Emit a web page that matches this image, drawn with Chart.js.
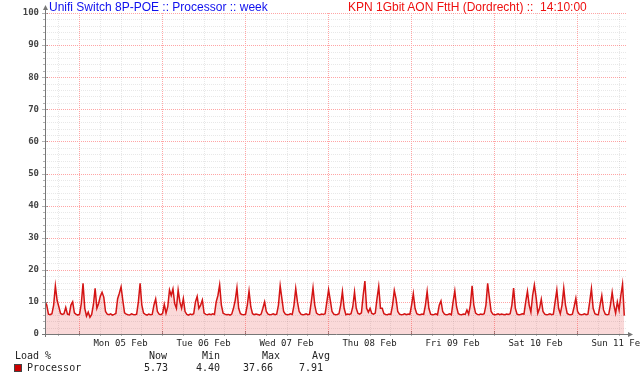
<!DOCTYPE html>
<html>
<head>
<meta charset="utf-8">
<script src="https://cdn.jsdelivr.net/npm/chart.js@4/dist/chart.umd.min.js"></script>
<style>
  html, body { margin: 0; padding: 0; background: #fff; }
  #wrap { position: relative; width: 640px; height: 380px; overflow: hidden; }
  canvas { position: absolute; left: 0; top: 0; }
  .t { position: absolute; white-space: pre; }
  .title { font: 12px "Liberation Sans", Arial, sans-serif; line-height: 14px; top: 0; }
  .mono { font: 10px "DejaVu Sans Mono", monospace; line-height: 12px; color: #222; }
  .r { text-align: right; }
</style>
</head>
<body>
<div id="wrap">
  <canvas id="c" width="640" height="380"></canvas>
  <div class="t title" style="left:49px;color:#1010ee;">Unifi Switch 8P-POE :: Processor :: week</div>
  <div class="t title" style="left:348px;color:#ee1010;">KPN 1Gbit AON FttH (Dordrecht) ::  14:10:00</div>
  <div class="t mono" style="left:15px;top:350px;">Load %</div>
  <div class="t mono r" style="right:473px;top:350px;">Now</div>
  <div class="t mono r" style="right:420px;top:350px;">Min</div>
  <div class="t mono r" style="right:360px;top:350px;">Max</div>
  <div class="t mono r" style="right:310px;top:350px;">Avg</div>
  <div class="t" style="left:14px;top:364px;width:6px;height:6px;background:#cc0000;border:1px solid #444;"></div>
  <div class="t mono" style="left:27px;top:362px;" id="seriesName"></div>
  <div class="t mono r" style="right:472px;top:362px;" id="sNow"></div>
  <div class="t mono r" style="right:420px;top:362px;" id="sMin"></div>
  <div class="t mono r" style="right:367px;top:362px;" id="sMax"></div>
  <div class="t mono r" style="right:317px;top:362px;" id="sAvg"></div>
</div>
<script>
// ---- data (one sample every 30 minutes, week ending Sun 11 Feb 14:10) ----
const SERIES_NAME = 'Processor';
const STEP_HOURS = 0.5;
const DAY_LABELS = ['Mon 05 Feb', 'Tue 06 Feb', 'Wed 07 Feb', 'Thu 08 Feb', 'Fri 09 Feb', 'Sat 10 Feb', 'Sun 11 Feb'];
const FIRST_MIDNIGHT_HOUR = 9 + 50 / 60;   // Mon 05 Feb 00:00, hours after window start
const STATS = { now: '5.73', min: '4.40', max: '37.66', avg: '7.91' };
const Y_TICKS = [0, 10, 20, 30, 40, 50, 60, 70, 80, 90, 100];

const LOAD_DAY1 = [10.1, 9.0, 6.2, 6.0, 6.3, 9.0, 15.0, 10.5, 8.5, 6.4, 6.1, 6.3, 8.3, 6.2, 6.0, 9.0,
  10.0, 6.6, 6.1, 5.9, 6.2, 9.5, 15.8, 8.0, 5.6, 6.8, 5.2, 6.1, 9.2, 14.2, 8.0, 9.5,
  11.8, 13.0, 11.5, 7.0, 6.2, 6.0, 6.3, 5.9, 6.1, 6.4, 11.0, 12.7, 14.7, 10.5, 6.6, 6.2];
const LOAD_DAY2 = [6.0, 5.9, 6.3, 6.1, 6.0, 6.2, 10.0, 15.8, 9.0, 6.5, 6.1, 5.9, 6.2, 6.0, 6.1, 9.0,
  10.9, 7.0, 6.2, 6.0, 6.4, 9.2, 6.5, 8.5, 13.7, 12.0, 14.0, 9.5, 8.0, 13.7, 10.0, 8.0,
  11.0, 7.0, 6.1, 5.9, 6.2, 6.0, 6.3, 10.0, 11.7, 8.0, 9.0, 10.6, 6.5, 6.1, 6.0, 6.2];
const LOAD_DAY3 = [6.0, 6.3, 6.1, 10.0, 12.0, 15.3, 9.0, 6.5, 6.2, 6.0, 6.1, 5.9, 6.2, 8.0, 10.5, 14.4,
  8.0, 6.3, 6.1, 6.0, 6.2, 9.0, 13.4, 8.5, 6.3, 6.0, 6.2, 6.1, 5.9, 6.2, 8.0, 10.0,
  7.0, 6.2, 6.0, 6.1, 6.3, 6.0, 6.2, 9.0, 15.0, 11.0, 7.0, 6.2, 6.0, 6.1, 6.3, 6.1];
const LOAD_DAY4 = [9.0, 14.2, 10.0, 7.0, 6.2, 6.0, 6.1, 6.3, 6.0, 6.2, 10.0, 14.4, 9.0, 6.5, 6.1, 6.0,
  6.2, 6.1, 6.3, 10.0, 13.8, 10.5, 7.0, 6.2, 6.0, 6.1, 6.3, 9.0, 13.2, 8.0, 6.0, 6.2,
  6.1, 6.3, 8.5, 13.1, 8.0, 6.4, 6.2, 6.6, 12.0, 16.5, 8.0, 6.8, 8.0, 6.4, 6.2, 6.5];
const LOAD_DAY5 = [11.0, 14.8, 8.0, 8.0, 6.3, 6.1, 6.0, 6.2, 6.1, 9.0, 13.6, 11.0, 7.0, 6.2, 6.0, 6.1,
  6.3, 6.0, 6.2, 6.1, 9.0, 12.6, 8.0, 6.3, 6.1, 6.0, 6.2, 6.1, 9.0, 13.3, 8.0, 6.2,
  6.0, 6.1, 6.3, 6.0, 9.0, 10.3, 7.0, 6.2, 6.0, 6.1, 6.3, 6.0, 10.0, 13.4, 8.5, 6.3];
const LOAD_DAY6 = [6.1, 6.0, 6.2, 6.1, 7.5, 6.2, 9.0, 15.0, 9.0, 6.5, 6.1, 6.0, 6.2, 6.1, 6.3, 9.0,
  15.8, 11.3, 7.0, 6.2, 6.0, 6.1, 6.3, 6.0, 6.2, 6.1, 6.0, 6.2, 6.1, 6.3, 9.0, 14.3,
  8.0, 6.2, 6.0, 6.1, 6.3, 6.2, 10.0, 13.3, 9.0, 6.8, 12.0, 15.3, 11.5, 6.5, 8.0, 10.8];
const LOAD_DAY7 = [7.0, 6.2, 6.0, 6.1, 6.3, 6.0, 6.2, 10.0, 13.7, 8.0, 6.3, 9.0, 14.3, 9.0, 6.4, 6.1,
  6.0, 6.2, 8.5, 11.1, 7.0, 6.2, 6.0, 6.1, 6.3, 6.0, 6.2, 10.0, 14.1, 8.0, 6.3, 6.1,
  6.0, 9.0, 12.0, 7.5, 6.2, 6.0, 6.1, 9.0, 13.0, 9.0, 6.5, 10.0, 7.5, 12.0, 15.5, 5.73];

const LOAD = [].concat(LOAD_DAY1, LOAD_DAY2, LOAD_DAY3, LOAD_DAY4, LOAD_DAY5, LOAD_DAY6, LOAD_DAY7);
const points = LOAD.map((v, i) => ({ x: i * STEP_HOURS, y: v }));

document.getElementById('seriesName').textContent = SERIES_NAME;
document.getElementById('sNow').textContent = STATS.now;
document.getElementById('sMin').textContent = STATS.min;
document.getElementById('sMax').textContent = STATS.max;
document.getElementById('sAvg').textContent = STATS.avg;

// grid every 6h, majors at midnight, labels at noon
const xGrid = [];
for (let k = -1; FIRST_MIDNIGHT_HOUR + 6 * k <= 168; k++) xGrid.push(FIRST_MIDNIGHT_HOUR + 6 * k);
const dayOffset = v => (v - FIRST_MIDNIGHT_HOUR) / 24;
const isMidnight = v => { const d = dayOffset(v); return Math.abs(d - Math.round(d)) < 1e-6; };
const labelFor = v => {
  const d = dayOffset(v) - 0.5;
  const k = Math.round(d);
  return Math.abs(d - k) < 1e-6 && k >= 0 && k < DAY_LABELS.length ? DAY_LABELS[k] : '';
};

const MAJOR = 'rgb(255,165,165)';
const MINOR = 'rgba(0,0,0,0.09)';

// light dotted grid drawn under the data, red for day / ten-percent lines
const gridLines = {
  id: 'gridLines',
  beforeDatasetsDraw(chart) {
    const { ctx, chartArea: a, scales: { x, y } } = chart;
    ctx.save();
    ctx.lineWidth = 1;
    ctx.setLineDash([1, 1]);
    for (let v = 2; v <= 100; v += 2) {
      const py = Math.round(y.getPixelForValue(v)) + 0.5;
      ctx.strokeStyle = v % 10 === 0 ? MAJOR : MINOR;
      ctx.beginPath(); ctx.moveTo(a.left, py); ctx.lineTo(a.right, py); ctx.stroke();
    }
    xGrid.forEach(h => {
      const px = Math.round(x.getPixelForValue(h)) + 0.5;
      ctx.strokeStyle = isMidnight(h) ? MAJOR : MINOR;
      ctx.beginPath(); ctx.moveTo(px, a.top); ctx.lineTo(px, a.bottom); ctx.stroke();
    });
    ctx.restore();
  }
};

const axisArrows = {
  id: 'axisArrows',
  afterDraw(chart) {
    const { ctx, chartArea: a, scales: { x, y } } = chart;
    ctx.save();
    ctx.lineWidth = 1;
    // small tick marks
    ctx.strokeStyle = 'rgba(0,0,0,0.3)';
    ctx.beginPath();
    for (let v = 0; v <= 100; v += 2) {
      const py = Math.round(y.getPixelForValue(v)) + 0.5;
      const len = v % 10 === 0 ? 3 : 2;
      ctx.moveTo(a.left - len, py); ctx.lineTo(a.left + (v % 10 === 0 ? 3 : 0), py);
    }
    xGrid.forEach(h => {
      const px = Math.round(x.getPixelForValue(h)) + 0.5;
      ctx.moveTo(px, a.bottom + 2); ctx.lineTo(px, a.bottom - (isMidnight(h) ? 3 : 0));
    });
    ctx.stroke();
    ctx.strokeStyle = '#777';
    ctx.fillStyle = '#777';
    ctx.beginPath();
    ctx.moveTo(a.left + 0.5, a.bottom + 3);
    ctx.lineTo(a.left + 0.5, a.top - 6);
    ctx.moveTo(a.left - 3, a.bottom + 0.5);
    ctx.lineTo(a.right + 5, a.bottom + 0.5);
    ctx.stroke();
    ctx.beginPath();
    ctx.moveTo(a.left + 0.5, a.top - 8);
    ctx.lineTo(a.left - 2, a.top - 3);
    ctx.lineTo(a.left + 3, a.top - 3);
    ctx.closePath();
    ctx.fill();
    ctx.beginPath();
    ctx.moveTo(a.right + 7, a.bottom + 0.5);
    ctx.lineTo(a.right + 2, a.bottom - 2);
    ctx.lineTo(a.right + 2, a.bottom + 3);
    ctx.closePath();
    ctx.fill();
    ctx.restore();
  }
};

new Chart(document.getElementById('c'), {
  type: 'line',
  data: {
    datasets: [{
      label: SERIES_NAME,
      data: points,
      borderColor: '#d41414',
      borderWidth: 1.5,
      backgroundColor: 'rgba(220,0,0,0.15)',
      fill: 'origin',
      pointRadius: 0,
      tension: 0
    }]
  },
  options: {
    responsive: false,
    animation: false,
    devicePixelRatio: 1,
    layout: { padding: { top: 13, right: 14, left: 0, bottom: 0 } },
    plugins: { legend: { display: false }, tooltip: { enabled: false }, title: { display: false } },
    scales: {
      x: {
        type: 'linear',
        min: 0,
        max: 168,
        afterBuildTicks: s => { s.ticks = xGrid.map(v => ({ value: v })); },
        afterFit: s => { s.height = 46; s.paddingLeft = 0; s.paddingRight = 0; },
        ticks: {
          autoSkip: false,
          maxRotation: 0,
          minRotation: 0,
          padding: 4,
          color: '#222',
          font: { family: 'DejaVu Sans Mono', size: 9 },
          callback: v => labelFor(v)
        },
        grid: { display: false, drawTicks: false },
        border: { display: false }
      },
      y: {
        min: 0,
        max: 100,
        afterBuildTicks: s => {
          const t = [];
          for (let v = 0; v <= 100; v += 10) t.push({ value: v });
          s.ticks = t;
        },
        afterFit: s => { s.width = 45; s.paddingTop = 0; s.paddingBottom = 0; },
        ticks: {
          autoSkip: false,
          padding: 6,
          color: '#444',
          font: { family: 'DejaVu Sans Mono', size: 9, weight: 'bold' },
          callback: v => Y_TICKS.includes(v) ? String(v) : ''
        },
        grid: { display: false, drawTicks: false },
        border: { display: false }
      }
    }
  },
  plugins: [gridLines, axisArrows]
});
</script>
</body>
</html>
